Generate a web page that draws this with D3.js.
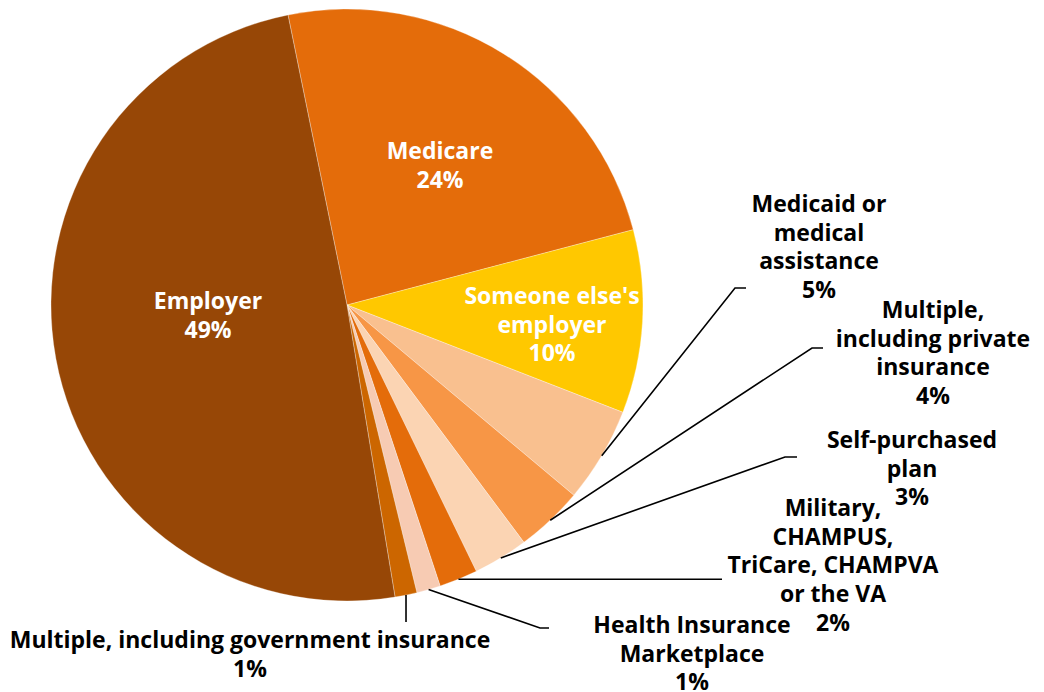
<!DOCTYPE html>
<html>
<head>
<meta charset="utf-8">
<script src="https://cdn.jsdelivr.net/npm/d3@7"></script>
<style>
  html, body { margin: 0; padding: 0; background: #fff; }
  svg text { font-family: "Open Sans", "Noto Sans", sans-serif; font-weight: 700; }
</style>
</head>
<body>
<svg id="chart" width="1044" height="692"></svg>
<script>
// Data (share of respondents, percent)
const categories = [
  "Medicare",
  "Someone else's employer",
  "Medicaid or medical assistance",
  "Multiple, including private insurance",
  "Self-purchased plan",
  "Military, CHAMPUS, TriCare, CHAMPVA or the VA",
  "Health Insurance Marketplace",
  "Multiple, including government insurance",
  "Employer"
];
const values = [24.1, 10.0, 5.2, 3.7, 3.0, 2.1, 1.3, 1.2, 49.4];
const labelLines = [
  ["Medicare"],
  ["Someone else's", "employer"],
  ["Medicaid or", "medical", "assistance"],
  ["Multiple,", "including private", "insurance"],
  ["Self-purchased", "plan"],
  ["Military,", "CHAMPUS,", "TriCare, CHAMPVA", "or the VA"],
  ["Health Insurance", "Marketplace"],
  ["Multiple, including government insurance"],
  ["Employer"]
];
const colors = ["#E46C0A", "#FFC800", "#F9C08F", "#F79646", "#FBD4B3", "#E46C0A", "#F7CBB3", "#CC6600", "#974706"];

// Layout (label anchor = centre of first line; leader elbow / end)
const layout = [
  { x: 440, y: 151, fill: "#fff" },
  { x: 552, y: 296, fill: "#fff" },
  { x: 819, y: 204, fill: "#000", elbow: [735, 288], end: 746 },
  { x: 933, y: 310, fill: "#000", elbow: [812, 348], end: 823 },
  { x: 912, y: 440, fill: "#000", elbow: [785, 457], end: 797 },
  { x: 833, y: 508, fill: "#000", elbow: [722, 577], end: 722, horiz: true },
  { x: 692, y: 625, fill: "#000", elbow: [540, 628], end: 549 },
  { x: 250, y: 640, fill: "#000", elbow: [409, 622], end: 409, vert: true },
  { x: 208, y: 301, fill: "#fff" }
];

const cx = 347, cy = 305, R = 296;
const lineH = 28.7;
const startAngle = -11.5 * Math.PI / 180;

const svg = d3.select("#chart");
const g = svg.append("g").attr("transform", `translate(${cx},${cy})`);

const data = categories.map((c, i) => ({ name: c, value: values[i], i }));
const pie = d3.pie().value(d => d.value).sort(null)
  .startAngle(startAngle).endAngle(startAngle + 2 * Math.PI);
const arcs = pie(data);
const arc = d3.arc().innerRadius(0).outerRadius(R);

g.selectAll("path.slice").data(arcs).join("path")
  .attr("class", "slice")
  .attr("d", arc)
  .attr("fill", d => colors[d.data.i])
  .attr("stroke", "#fff")
  .attr("stroke-opacity", 0.5)
  .attr("stroke-width", 0.6);

// Leader lines
arcs.forEach(a => {
  const L = layout[a.data.i];
  if (!L.elbow) return;
  const mid = (a.startAngle + a.endAngle) / 2;
  const sx = cx + R * Math.sin(mid), sy = cy - R * Math.cos(mid);
  let pts;
  if (L.horiz) pts = [[sx, sy], [L.end, sy]];
  else if (L.vert) pts = [[sx, sy], [sx, L.elbow[1]]];
  else pts = [[sx, sy], L.elbow, [L.end, L.elbow[1]]];
  svg.append("path")
    .attr("d", d3.line()(pts))
    .attr("fill", "none")
    .attr("stroke", "#000")
    .attr("stroke-width", 1.6);
});

// Labels
const pct = v => Math.round(v) + "%";
arcs.forEach(a => {
  const i = a.data.i, L = layout[i];
  const lines = labelLines[i].concat([pct(values[i])]);
  const t = svg.append("text")
    .attr("text-anchor", "middle")
    .attr("fill", L.fill)
    .style("font-size", "23px");
  lines.forEach((ln, k) => {
    t.append("tspan")
      .attr("x", L.x)
      .attr("y", L.y + k * lineH)
      .attr("dy", "0.35em")
      .text(ln);
  });
});
</script>
</body>
</html>
